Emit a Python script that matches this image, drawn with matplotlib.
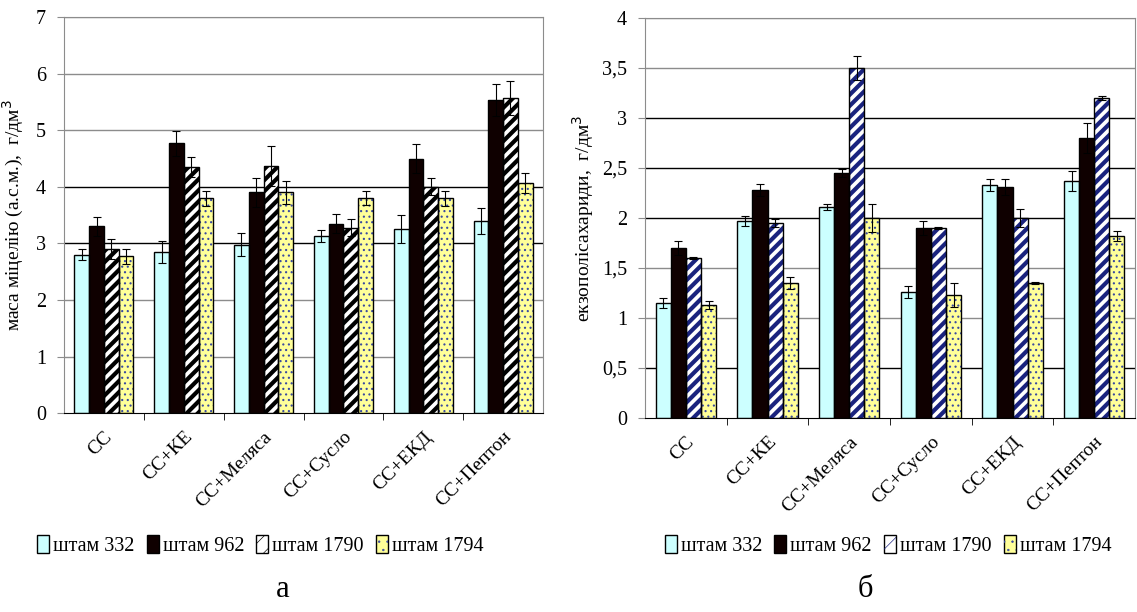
import numpy as np
import matplotlib
matplotlib.use("Agg")
import matplotlib.pyplot as plt
from matplotlib.patches import Patch

plt.rcParams['font.family'] = ['Liberation Serif', 'DejaVu Serif']

# data
categories = ["СС", "СС+КЕ", "СС+Меляса", "СС+Сусло", "СС+ЕКД", "СС+Пептон"]
strains = ["штам 332", "штам 962", "штам 1790", "штам 1794"]

mass_332 = [2.80, 2.85, 2.98, 3.13, 3.25, 3.40]
mass_962 = [3.30, 4.77, 3.90, 3.35, 4.50, 5.53]
mass_1790 = [2.90, 4.35, 4.37, 3.28, 4.00, 5.57]
mass_1794 = [2.77, 3.80, 3.90, 3.80, 3.80, 4.07]
mass_err_332 = [0.10, 0.20, 0.20, 0.10, 0.25, 0.23]
mass_err_962 = [0.17, 0.22, 0.25, 0.17, 0.25, 0.28]
mass_err_1790 = [0.17, 0.17, 0.35, 0.15, 0.15, 0.30]
mass_err_1794 = [0.13, 0.13, 0.20, 0.12, 0.13, 0.18]

eps_332 = [1.15, 1.97, 2.11, 1.26, 2.33, 2.37]
eps_962 = [1.70, 2.28, 2.45, 1.90, 2.31, 2.80]
eps_1790 = [1.60, 1.95, 3.50, 1.90, 2.00, 3.20]
eps_1794 = [1.13, 1.35, 2.00, 1.23, 1.35, 1.82]
eps_err_332 = [0.05, 0.05, 0.03, 0.06, 0.06, 0.10]
eps_err_962 = [0.07, 0.06, 0.04, 0.07, 0.08, 0.15]
eps_err_1790 = [0.01, 0.04, 0.12, 0.01, 0.09, 0.02]
eps_err_1794 = [0.04, 0.06, 0.14, 0.12, 0.01, 0.05]


def draw_panel(ax, series, errors, ymax, ystep, tick_fmt, stripe_color, dark_grid):
    x = np.arange(len(categories))
    w = 0.185
    styles = [
        dict(face="#ccffff", hatch=None, hcol=None, hlw=0),
        dict(face="#0f0000", hatch=None, hcol=None, hlw=0),
        dict(face="white", hatch="///", hcol=stripe_color, hlw=3.0),
        dict(face="#ffff99", hatch="...", hcol="#3a4aa0", hlw=0.8),
    ]
    handles = []
    for i, (vals, errs, st) in enumerate(zip(series, errors, styles)):
        pos = x + (i - 1.5) * w
        ax.bar(pos, vals, w, color=st["face"], linewidth=0, zorder=2)
        if st["hatch"]:
            plt.rcParams['hatch.linewidth'] = st["hlw"]
            ax.bar(pos, vals, w, color="none", edgecolor=st["hcol"],
                   hatch=st["hatch"], linewidth=0, zorder=3)
        ax.bar(pos, vals, w, fill=False, edgecolor="black", linewidth=1.0, zorder=4)
        ax.errorbar(pos, vals, yerr=errs, fmt="none", ecolor="black",
                    elinewidth=0.8, capsize=3, capthick=0.8, zorder=5)
        if st["hatch"]:
            plt.rcParams['hatch.linewidth'] = st["hlw"] * 0.6
            handles.append((Patch(facecolor=st["face"], edgecolor="black", linewidth=1.0),
                            Patch(facecolor="none", edgecolor=st["hcol"], hatch=st["hatch"][:2],
                                  linewidth=0)))
        else:
            handles.append(Patch(facecolor=st["face"], edgecolor="black", linewidth=1.0))

    ticks = np.arange(0, ymax + ystep / 2, ystep)
    for t in ticks[1:]:
        col = "black" if any(abs(t - d) < 1e-6 for d in dark_grid) else "#8c8c8c"
        ax.axhline(t, color=col, linewidth=1.0, zorder=1)
    ax.set_ylim(0, ymax)
    ax.set_xlim(-0.5, len(categories) - 0.5)
    ax.set_yticks(ticks)
    ax.set_yticklabels([tick_fmt(t) for t in ticks], fontsize=14.5)
    ax.tick_params(axis="y", length=5, color="#8c8c8c", pad=8)

    ax.set_xticks(x)
    ax.set_xticklabels(categories, rotation=45, ha="right", va="top",
                       rotation_mode="anchor", fontsize=14)
    ax.tick_params(axis="x", length=0, pad=11)
    ax.set_xticks(np.arange(0.5, len(categories) - 0.5), minor=True)
    ax.tick_params(axis="x", which="minor", length=5, color="black")
    for s in ax.spines.values():
        s.set_color("#8c8c8c")
    ax.spines["bottom"].set_color("black")
    return handles


fig = plt.figure(figsize=(11.37, 6.12), dpi=100)
ax1 = fig.add_axes([0.0563, 0.325, 0.4213, 0.647])
ax2 = fig.add_axes([0.5673, 0.317, 0.4310, 0.6536])

h1 = draw_panel(ax1, [mass_332, mass_962, mass_1790, mass_1794],
                [mass_err_332, mass_err_962, mass_err_1790, mass_err_1794],
                7, 1, lambda t: f"{t:.0f}", "black", [3, 4])
h2 = draw_panel(ax2, [eps_332, eps_962, eps_1790, eps_1794],
                [eps_err_332, eps_err_962, eps_err_1790, eps_err_1794],
                4, 0.5, lambda t: f"{t:g}".replace(".", ","), "#1a237e", [0.5, 2, 2.5, 3])

ax1.set_ylabel("маса міцелію (а.с.м.),  г/дм$^3$", fontsize=14, labelpad=7)
ax2.set_ylabel("екзополісахариди,  г/дм$^3$", fontsize=14, labelpad=4)

for h, cx in [(h1, 0.229), (h2, 0.781)]:
    fig.legend(h, strains, loc="center", bbox_to_anchor=(cx, 0.108), ncol=4,
               frameon=False, fontsize=14.5, handlelength=0.6, handleheight=1.0,
               handletextpad=0.2, columnspacing=0.6)

fig.text(0.249, 0.025, "а", fontsize=22, ha="center")
fig.text(0.761, 0.025, "б", fontsize=22, ha="center")

fig.savefig("out.png", dpi=100)
